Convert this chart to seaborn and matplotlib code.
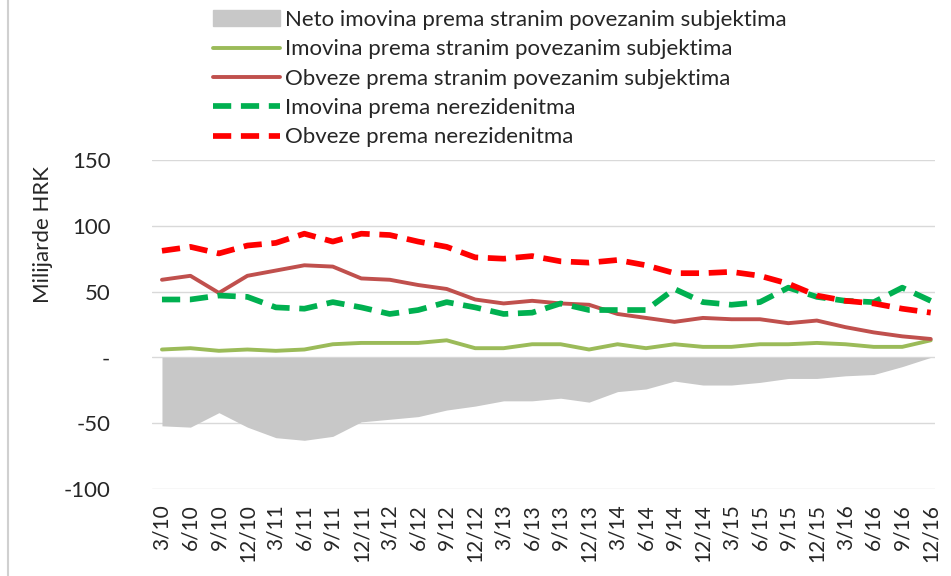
import matplotlib
matplotlib.use("Agg")
import matplotlib.pyplot as plt
import matplotlib.patches as mpatches
import matplotlib.lines as mlines
import numpy as np
import pandas as pd
import seaborn as sns

quarters = ["3/10", "6/10", "9/10", "12/10", "3/11", "6/11", "9/11", "12/11",
            "3/12", "6/12", "9/12", "12/12", "3/13", "6/13", "9/13", "12/13",
            "3/14", "6/14", "9/14", "12/14", "3/15", "6/15", "9/15", "12/15",
            "3/16", "6/16", "9/16", "12/16"]

neto = [-52, -53, -42, -53, -61, -63, -60, -49, -47, -45, -40, -37, -33, -33,
        -31, -34, -26, -24, -18, -21, -21, -19, -16, -16, -14, -13, -7, 0]
imovina_pov = [6, 7, 5, 6, 5, 6, 10, 11, 11, 11, 13, 7, 7, 10,
               10, 6, 10, 7, 10, 8, 8, 10, 10, 11, 10, 8, 8, 13]
obveze_pov = [59, 62, 49, 62, 66, 70, 69, 60, 59, 55, 52, 44, 41, 43,
              41, 40, 33, 30, 27, 30, 29, 29, 26, 28, 23, 19, 16, 14]
imovina_nerez = [44, 44, 47, 46, 38, 37, 42, 38, 33, 36, 42, 38, 33, 34,
                 41, 36, 36, 36, 52, 42, 40, 42, 53, 46, 43, 42, 53, 43]
obveze_nerez = [81, 84, 79, 85, 87, 94, 88, 94, 93, 88, 84, 76, 75, 77,
                73, 72, 74, 70, 64, 64, 65, 62, 56, 47, 43, 41, 37, 34]

labels = ["Neto imovina prema stranim povezanim subjektima",
          "Imovina prema stranim povezanim subjektima",
          "Obveze prema stranim povezanim subjektima",
          "Imovina prema nerezidenitma",
          "Obveze prema nerezidenitma"]

df = pd.DataFrame({"q": np.arange(len(quarters)), "neto": neto,
                   "imov_pov": imovina_pov, "obv_pov": obveze_pov,
                   "imov_nr": imovina_nerez, "obv_nr": obveze_nerez})

sns.set_style("white")
plt.rcParams["font.family"] = ["Lato", "DejaVu Sans"]

fig = plt.figure(figsize=(9.51, 5.76), dpi=100)
ax = fig.add_axes([152 / 951, 1 - 489 / 576, (935 - 152) / 951, (489 - 160) / 576])

ax.fill_between(df["q"], df["neto"], 0, color="#c8c8c8", lw=0, zorder=2)

solid_w, dash_w = 2.8, 4.1
dash = (0, (3.2, 1.7))
sns.lineplot(data=df, x="q", y="imov_pov", ax=ax, color="#9bbb59", lw=solid_w, zorder=3)
sns.lineplot(data=df, x="q", y="obv_pov", ax=ax, color="#c0504d", lw=solid_w, zorder=3)
sns.lineplot(data=df, x="q", y="imov_nr", ax=ax, color="#00b050", lw=dash_w, zorder=4,
             linestyle=dash)
sns.lineplot(data=df, x="q", y="obv_nr", ax=ax, color="#ff0000", lw=dash_w, zorder=4,
             linestyle=dash)

ax.set_ylim(-100, 150)
ax.set_xlim(-0.35, 27.15)
ax.set_yticks([150, 100, 50, 0, -50, -100])
ax.set_yticklabels(["150", "100", "50", "-", "-50", "-100"])
ax.set_xticks(df["q"])
ax.set_xticklabels(quarters, rotation=90)
ax.tick_params(axis="y", length=0, pad=30, labelsize=16)
ax.tick_params(axis="x", length=0, pad=11, labelsize=15)
ax.yaxis.grid(True, color="#d9d9d9", lw=1)
ax.set_axisbelow(True)
for s in ax.spines.values():
    s.set_visible(False)
ax.set_xlabel("")
ax.set_ylabel("Milijarde HRK", fontsize=16)
ax.yaxis.set_label_coords((53 - 152) / 783, (489 - 235) / 329)

handles = [mpatches.Patch(color="#c8c8c8"),
           mlines.Line2D([], [], color="#9bbb59", lw=solid_w),
           mlines.Line2D([], [], color="#c0504d", lw=solid_w),
           mlines.Line2D([], [], color="#00b050", lw=dash_w, linestyle=dash),
           mlines.Line2D([], [], color="#ff0000", lw=dash_w, linestyle=dash)]
fig.legend(handles, labels, loc="upper left", bbox_to_anchor=(213 / 951, 1 - 10 / 576),
           frameon=False, fontsize=16, borderpad=0, handlelength=3.0,
           handletextpad=0.22, labelspacing=0.42, borderaxespad=0)

fig.add_artist(mlines.Line2D([8 / 951, 8 / 951], [0, 1], color="#d0d0d0", lw=1.5))

fig.savefig("out.png", dpi=100)
